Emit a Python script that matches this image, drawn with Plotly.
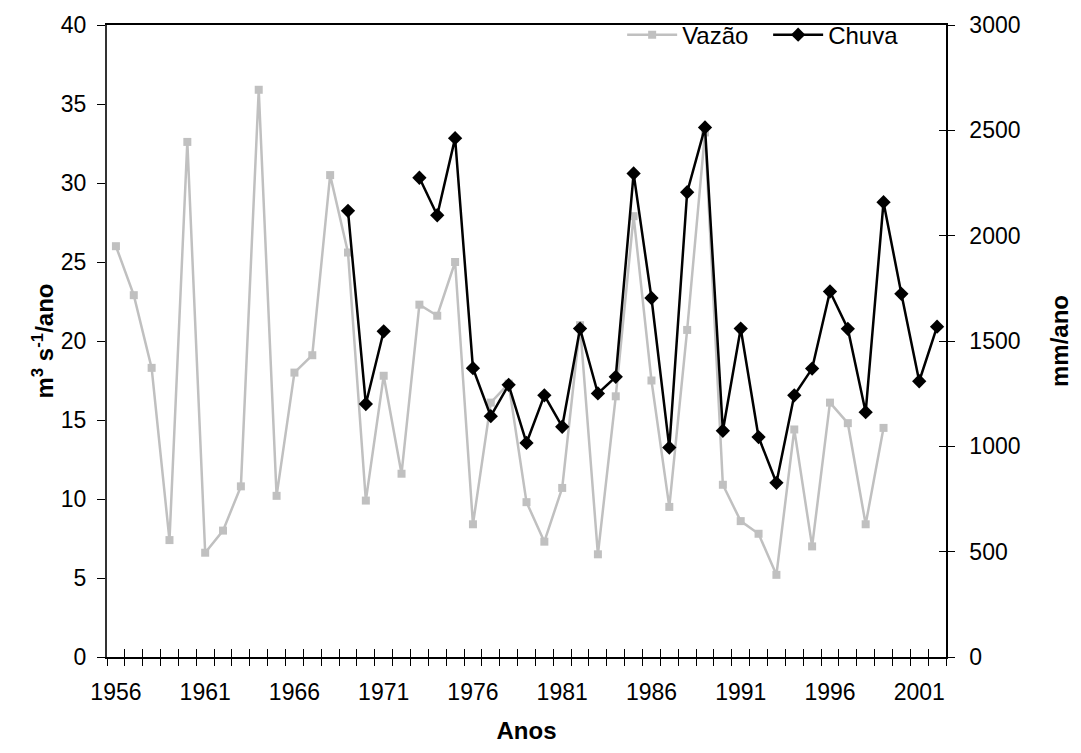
import plotly.graph_objects as go

years = list(range(1956, 2003))

vazao = [26.0, 22.9, 18.3, 7.4, 32.6, 6.6, 8.0, 10.8, 35.9, 10.2,
         18.0, 19.1, 30.5, 25.6, 9.9, 17.8, 11.6, 22.3, 21.6, 25.0,
         8.4, 16.1, 17.3, 9.8, 7.3, 10.7, 21.0, 6.5, 16.5, 27.9,
         17.5, 9.5, 20.7, 33.2, 10.9, 8.6, 7.8, 5.2, 14.4, 7.0,
         16.1, 14.8, 8.4, 14.5, None, None, None]

chuva = [None] * 13 + [2118, 1201, 1546, None, 2275, 2097, 2463,
         1371, 1143, 1292, 1016, 1242, 1093, 1559, 1251, 1330, 2295,
         1704, 994, 2206, 2514, 1074, 1559, 1044, 827, 1242, 1369,
         1735, 1558, 1162, 2159, 1724, 1309, 1568]

label_years = list(range(1956, 2002, 5))
boundaries = [y - 0.5 for y in range(1956, 2004)]

FONT = "Liberation Sans, Arial, sans-serif"
GRAY = "#C0C0C0"
TICK = 23
TITLE = 24

fig = go.Figure()
fig.add_trace(go.Scatter(
    x=years, y=vazao, name="Vazão", mode="lines+markers",
    line=dict(color=GRAY, width=2.5),
    marker=dict(symbol="square", size=8, color=GRAY),
    connectgaps=False, xaxis="x", yaxis="y", legend="legend"))
fig.add_trace(go.Scatter(
    x=years, y=chuva, name="Chuva", mode="lines+markers",
    line=dict(color="black", width=2.5),
    marker=dict(symbol="diamond", size=11, color="black"),
    connectgaps=False, xaxis="x", yaxis="y2", legend="legend2"))
# helper traces so the overlay tick axes get drawn
fig.add_trace(go.Scatter(x=[None], y=[None], xaxis="x2", yaxis="y",
                         showlegend=False, hoverinfo="skip"))
fig.add_trace(go.Scatter(x=[None], y=[None], xaxis="x3", yaxis="y3",
                         showlegend=False, hoverinfo="skip"))

legend_common = dict(orientation="h", yanchor="middle", xanchor="left",
                     bgcolor="rgba(0,0,0,0)", font=dict(size=24),
                     itemwidth=50)

xr = [1955.5, 2002.5]
fig.update_layout(
    width=1081, height=753,
    margin=dict(l=107, r=133, t=20, b=96),
    paper_bgcolor="white", plot_bgcolor="white",
    font=dict(family=FONT, size=TICK, color="black"),
    showlegend=True,
    legend=dict(x=0.614, y=0.984, **legend_common),
    legend2=dict(x=0.788, y=0.984, **legend_common),
    xaxis=dict(range=xr, tickmode="array", tickvals=label_years,
               ticks="", showline=True, linecolor="black", linewidth=1.5,
               mirror=True, showgrid=False, zeroline=False,
               ticklabelstandoff=14,
               title=dict(text="<b>Anos</b>", font=dict(size=TITLE), standoff=18),
               tickfont=dict(size=TICK)),
    xaxis2=dict(range=xr, overlaying="x", anchor="y", side="bottom",
                tickmode="array", tickvals=boundaries, ticks="outside",
                ticklen=8, tickcolor="black", showticklabels=False,
                showline=False, showgrid=False, zeroline=False),
    xaxis3=dict(range=xr, overlaying="x", anchor="y", side="bottom",
                tickmode="array", tickvals=boundaries, ticks="inside",
                ticklen=8, tickcolor="black", showticklabels=False,
                showline=False, showgrid=False, zeroline=False),
    yaxis=dict(range=[0, 40], tickmode="linear", tick0=0, dtick=5,
               ticks="outside", ticklen=8, tickcolor="black",
               showline=True, linecolor="#333333", linewidth=2,
               showgrid=False, zeroline=False, tickfont=dict(size=TICK),
               ticklabelstandoff=6,
               title=dict(text="<b>m<sup>3</sup> s<sup>-1</sup>/ano</b>",
                          font=dict(size=TITLE), standoff=0)),
    yaxis2=dict(range=[0, 3000], overlaying="y", side="right", anchor="x",
                tickmode="linear", tick0=0, dtick=500,
                ticks="outside", ticklen=7, tickcolor="black",
                showline=True, linecolor="black", linewidth=1.5,
                showgrid=False, zeroline=False, tickfont=dict(size=TICK),
                ticklabelstandoff=10,
                title=dict(text="<b>mm/ano</b>", font=dict(size=TITLE), standoff=32)),
    yaxis3=dict(range=[0, 3000], overlaying="y", side="right", anchor="x",
                tickmode="linear", tick0=0, dtick=500,
                ticks="inside", ticklen=7, tickcolor="black",
                showticklabels=False, showline=False,
                showgrid=False, zeroline=False),
)

fig.write_html("out.html")
